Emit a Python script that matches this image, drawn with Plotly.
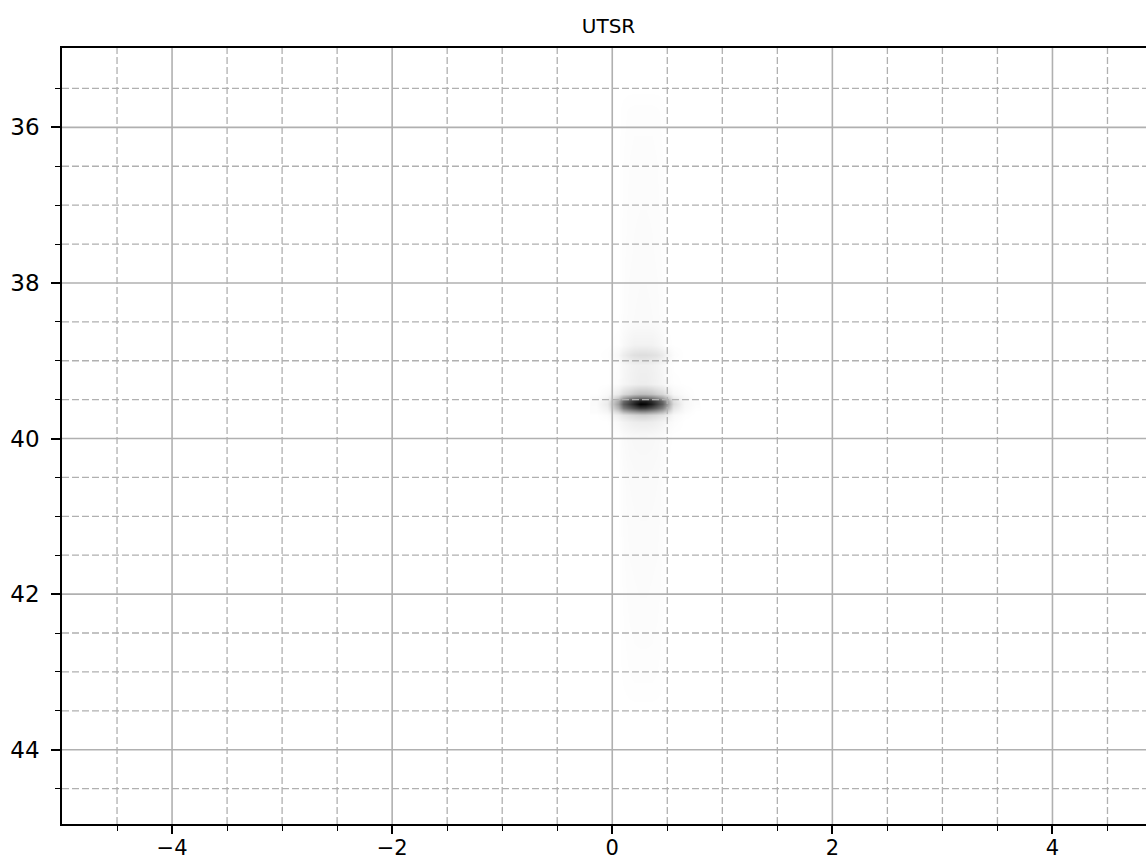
import plotly.graph_objects as go

# ---- data ----
title_text = "UTSR"

# image sample columns (lateral position) and rows (depth)
img_x = [-0.15, -0.05, 0.05, 0.10, 0.15, 0.20, 0.25, 0.30, 0.35, 0.40, 0.45, 0.50, 0.55, 0.65, 0.75]
img_y = [35.50, 35.80, 36.50, 37.50, 38.50, 38.80, 38.92, 39.05, 39.30, 39.42, 39.47,
         39.51, 39.55, 39.60, 39.65, 39.70, 39.78, 39.95, 40.50, 41.20, 42.00, 43.00, 43.50]
# normalised amplitude (0 = white, 1 = black)
img_z = [
    [0, 0, 0, 0, 0, 0, 0, 0, 0, 0, 0, 0, 0, 0, 0],
    [0, 0, 0, 0.004, 0.007, 0.008, 0.008, 0.008, 0.008, 0.007, 0.004, 0, 0, 0, 0],
    [0, 0, 0, 0.006, 0.010, 0.012, 0.012, 0.012, 0.012, 0.010, 0.006, 0, 0, 0, 0],
    [0, 0, 0, 0.008, 0.012, 0.014, 0.015, 0.015, 0.014, 0.012, 0.008, 0, 0, 0, 0],
    [0, 0, 0, 0.010, 0.016, 0.018, 0.020, 0.020, 0.018, 0.016, 0.010, 0, 0, 0, 0],
    [0, 0, 0.005, 0.025, 0.040, 0.050, 0.050, 0.050, 0.050, 0.040, 0.025, 0.005, 0, 0, 0],
    [0, 0.005, 0.030, 0.070, 0.100, 0.120, 0.130, 0.130, 0.120, 0.110, 0.080, 0.040, 0.010, 0, 0],
    [0, 0, 0.010, 0.030, 0.045, 0.055, 0.060, 0.060, 0.055, 0.045, 0.030, 0.010, 0, 0, 0],
    [0, 0, 0.015, 0.035, 0.050, 0.060, 0.070, 0.070, 0.060, 0.050, 0.035, 0.015, 0.005, 0, 0],
    [0, 0.020, 0.080, 0.140, 0.180, 0.220, 0.250, 0.250, 0.230, 0.190, 0.150, 0.090, 0.030, 0.010, 0],
    [0.010, 0.040, 0.200, 0.360, 0.460, 0.520, 0.560, 0.560, 0.520, 0.460, 0.360, 0.220, 0.080, 0.020, 0],
    [0.020, 0.070, 0.330, 0.580, 0.700, 0.800, 0.880, 0.880, 0.820, 0.720, 0.580, 0.360, 0.120, 0.030, 0.010],
    [0.020, 0.080, 0.380, 0.640, 0.760, 0.870, 1.000, 0.980, 0.890, 0.770, 0.630, 0.400, 0.140, 0.030, 0.010],
    [0.015, 0.060, 0.300, 0.520, 0.620, 0.700, 0.780, 0.770, 0.700, 0.620, 0.500, 0.320, 0.100, 0.025, 0.005],
    [0.010, 0.035, 0.160, 0.280, 0.340, 0.380, 0.420, 0.420, 0.380, 0.340, 0.270, 0.170, 0.060, 0.015, 0],
    [0, 0.015, 0.070, 0.110, 0.140, 0.160, 0.180, 0.180, 0.160, 0.140, 0.110, 0.070, 0.025, 0.005, 0],
    [0, 0, 0.025, 0.045, 0.060, 0.070, 0.075, 0.075, 0.070, 0.060, 0.045, 0.025, 0.010, 0, 0],
    [0, 0, 0.005, 0.018, 0.025, 0.028, 0.030, 0.030, 0.028, 0.025, 0.018, 0.005, 0, 0, 0],
    [0, 0, 0, 0.012, 0.018, 0.020, 0.020, 0.020, 0.020, 0.018, 0.012, 0, 0, 0, 0],
    [0, 0, 0, 0.010, 0.015, 0.016, 0.017, 0.017, 0.016, 0.015, 0.010, 0, 0, 0, 0],
    [0, 0, 0, 0.007, 0.012, 0.013, 0.014, 0.014, 0.013, 0.012, 0.007, 0, 0, 0, 0],
    [0, 0, 0, 0.003, 0.006, 0.008, 0.008, 0.008, 0.008, 0.006, 0.003, 0, 0, 0, 0],
    [0, 0, 0, 0, 0, 0, 0, 0, 0, 0, 0, 0, 0, 0, 0],
]

x_major = [-4, -2, 0, 2, 4]
x_major_text = ["\u22124", "\u22122", "0", "2", "4"]
x_minor = [-4.5, -3.5, -3, -2.5, -1.5, -1, -0.5, 0.5, 1, 1.5, 2.5, 3, 3.5, 4.5]
y_major = [36, 38, 40, 42, 44]
y_major_text = ["36", "38", "40", "42", "44"]
y_minor = [35.5, 36.5, 37, 37.5, 38.5, 39, 39.5, 40.5, 41, 41.5, 42.5, 43, 43.5, 44.5]

x_range = [-5.0, 4.85]
y_range = [44.955, 34.98]

# ---- figure ----
GRID = "#b0b0b0"
DASH = "7px,3px"
FONT = "DejaVu Sans"

fig = go.Figure()
fig.add_trace(go.Heatmap(
    x=img_x, y=img_y, z=img_z,
    colorscale=[[0, "rgb(255,255,255)"], [1, "rgb(0,0,0)"]],
    zmin=0, zmax=1, zsmooth="best", showscale=False, hoverinfo="skip",
))

shapes = []
for v in x_major:
    shapes.append(dict(type="line", xref="x", yref="paper", x0=v, x1=v, y0=0, y1=1,
                       line=dict(color=GRID, width=1.6), layer="above"))
for v in x_minor:
    shapes.append(dict(type="line", xref="x", yref="paper", x0=v, x1=v, y0=0, y1=1,
                       line=dict(color=GRID, width=1.3, dash=DASH), layer="above"))
for v in y_major:
    shapes.append(dict(type="line", xref="paper", yref="y", x0=0, x1=1, y0=v, y1=v,
                       line=dict(color=GRID, width=1.6), layer="above"))
for v in y_minor:
    shapes.append(dict(type="line", xref="paper", yref="y", x0=0, x1=1, y0=v, y1=v,
                       line=dict(color=GRID, width=1.3, dash=DASH), layer="above"))

axis_common = dict(
    ticks="outside", tickwidth=1.7, tickcolor="black",
    showline=True, linecolor="black", linewidth=1.7,
    showgrid=False, zeroline=False, automargin=False,
    layer="above traces",
)

fig.update_layout(
    width=1146, height=863, autosize=False,
    margin=dict(l=62, r=0, t=48, b=39, pad=0, autoexpand=False),
    paper_bgcolor="white", plot_bgcolor="white",
    showlegend=False,
    title=dict(text=title_text, xref="container", x=0.531, xanchor="center",
               yref="container", y=1 - 26 / 863, yanchor="middle", automargin=False,
               font=dict(family=FONT, size=20, color="black")),
    shapes=shapes,
    xaxis=dict(range=x_range, tickmode="array", tickvals=x_major, ticktext=x_major_text,
               mirror=True, ticklen=8, ticklabelstandoff=-4,
               tickfont=dict(family=FONT, size=21, color="black"),
               minor=dict(tickmode="array", tickvals=x_minor, ticks="outside", ticklen=5,
                          tickwidth=1.3, tickcolor="black", showgrid=False),
               **axis_common),
    yaxis=dict(range=y_range, tickmode="array", tickvals=y_major, ticktext=y_major_text,
               mirror=False, ticklen=9, ticklabelstandoff=7,
               tickfont=dict(family=FONT, size=23, color="black"),
               minor=dict(tickmode="array", tickvals=y_minor, ticks="outside", ticklen=5,
                          tickwidth=1.3, tickcolor="black", showgrid=False),
               **axis_common),
)

fig.write_html("out.html")
